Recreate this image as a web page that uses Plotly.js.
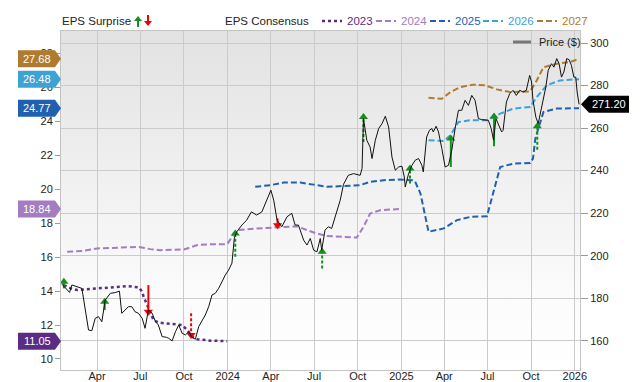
<!DOCTYPE html>
<html><head><meta charset="utf-8">
<script src="https://cdn.plot.ly/plotly-3.0.1.min.js"></script>
<style>html,body{margin:0;padding:0;background:#fff}#chart{width:640px;height:382px}</style>
</head><body><div id="chart"></div>
<script>
// ---------------- DATA ----------------
const priceDates = ['2023-01-17','2023-02-02','2023-02-07','2023-02-18','2023-02-28','2023-03-14','2023-03-21','2023-03-28','2023-04-04','2023-04-11','2023-04-18','2023-04-29','2023-05-09','2023-05-18','2023-05-23','2023-05-30','2023-06-06','2023-06-13','2023-06-20','2023-06-27','2023-07-05','2023-07-11','2023-07-18','2023-07-26','2023-08-02','2023-08-08','2023-08-16','2023-08-25','2023-08-30','2023-09-06','2023-09-13','2023-09-20','2023-09-27','2023-10-04','2023-10-11','2023-10-18','2023-10-25','2023-11-01','2023-11-08','2023-11-15','2023-11-22','2023-11-29','2023-12-06','2023-12-13','2023-12-20','2023-12-27','2024-01-03','2024-01-10','2024-01-15','2024-01-20','2024-01-31','2024-02-10','2024-02-20','2024-03-02','2024-03-13','2024-03-24','2024-04-01','2024-04-07','2024-04-14','2024-04-24','2024-05-05','2024-05-15','2024-05-22','2024-05-29','2024-06-09','2024-06-16','2024-06-23','2024-06-30','2024-07-07','2024-07-14','2024-07-17','2024-07-24','2024-07-31','2024-08-07','2024-08-14','2024-08-25','2024-09-01','2024-09-11','2024-09-22','2024-10-06','2024-10-10','2024-10-13','2024-10-20','2024-10-27','2024-10-31','2024-11-07','2024-11-14','2024-11-21','2024-11-28','2024-12-05','2024-12-12','2024-12-19','2024-12-26','2025-01-02','2025-01-07','2025-01-09','2025-01-16','2025-01-23','2025-01-30','2025-02-06','2025-02-13','2025-02-16','2025-02-23','2025-03-01','2025-03-06','2025-03-09','2025-03-15','2025-03-20','2025-03-27','2025-04-03','2025-04-10','2025-04-17','2025-04-24','2025-05-01','2025-05-08','2025-05-15','2025-05-22','2025-05-29','2025-06-05','2025-06-12','2025-06-19','2025-06-26','2025-07-03','2025-07-09','2025-07-14','2025-07-19','2025-07-24','2025-07-31','2025-08-03','2025-08-10','2025-08-17','2025-08-24','2025-08-31','2025-09-07','2025-09-14','2025-09-21','2025-09-28','2025-10-02','2025-10-05','2025-10-11','2025-10-16','2025-10-21','2025-10-26','2025-11-01','2025-11-06','2025-11-13','2025-11-18','2025-11-24','2025-11-29','2025-12-04','2025-12-09','2025-12-15','2025-12-20','2025-12-25','2025-12-30','2026-01-03','2026-01-06','2026-01-10'];
const priceValues = [186.6,182.7,186.2,185.4,184.6,165.0,164.7,170.5,171.3,168.9,179.1,182.3,182.6,183.3,172.9,174.4,176.0,176.0,173.6,172.9,170.5,165.8,174.4,172.9,168.9,167.4,161.9,161.6,161.1,159.9,164.2,167.4,163.5,162.7,164.2,161.6,160.7,166.6,169.7,172.1,176.0,181.5,182.3,184.6,187.7,190.9,193.2,196.5,208.2,211.2,214.4,216.7,220.6,219.1,220.6,226.1,230.8,226.1,216.7,213.6,218.3,219.9,214.4,214.4,207.3,205.0,208.1,202.6,201.8,208.1,202.6,212.0,213.6,212.8,218.3,226.1,233.6,237.8,238.6,237.8,241.0,264.5,254.3,251.1,245.7,254.3,259.8,262.1,265.6,260.5,246.4,240.2,241.7,242.1,237.0,232.3,238.6,242.5,244.9,245.7,242.5,239.4,255.8,259.0,259.8,258.2,260.9,258.2,250.4,241.7,242.5,249.6,259.8,268.4,268.4,273.1,270.7,275.4,273.1,264.5,264.0,263.7,263.7,259.8,254.3,264.5,262.1,258.2,259.0,272.3,276.2,277.8,275.4,277.8,277.0,277.8,284.8,281.7,273.1,265.2,262.1,267.6,271.5,279.3,287.2,290.3,288.7,292.7,290.3,284.0,286.4,292.7,292.2,289.5,284.0,284.0,277.0,271.2];

const eps2023Dates = ['2023-01-21','2023-02-04','2023-02-18','2023-04-08','2023-05-13','2023-06-03','2023-06-28','2023-07-05','2023-07-08','2023-07-19','2023-07-29','2023-08-09','2023-09-09','2023-09-27','2023-10-08','2023-10-18','2023-10-29','2023-11-26','2023-12-31'];
const eps2023 = [14.35,14.16,14.06,14.16,14.25,14.29,14.22,13.96,13.66,12.88,12.29,12.14,12.06,12.00,11.70,11.31,11.16,11.08,11.05];

const eps2024Dates = ['2023-01-28','2023-03-04','2023-04-01','2023-05-13','2023-06-28','2023-07-22','2023-08-12','2023-10-01','2023-10-29','2023-11-26','2023-12-31','2024-01-14','2024-01-21','2024-02-18','2024-03-24','2024-05-12','2024-05-26','2024-06-16','2024-07-07','2024-07-28','2024-09-15','2024-09-29','2024-10-13','2024-10-27','2024-11-17','2024-12-29'];
const eps2024 = [16.31,16.37,16.51,16.57,16.60,16.47,16.41,16.45,16.71,16.76,16.76,17.35,17.59,17.66,17.72,17.78,17.82,17.59,17.39,17.24,17.19,17.15,17.78,18.57,18.76,18.84];

const eps2025Dates = ['2024-02-28','2024-03-31','2024-04-28','2024-06-02','2024-06-30','2024-07-28','2024-09-01','2024-10-06','2024-10-27','2024-11-24','2024-12-23','2025-01-27','2025-01-30','2025-02-10','2025-02-27','2025-03-31','2025-04-28','2025-05-26','2025-06-30','2025-07-28','2025-08-25','2025-09-29','2025-10-05','2025-10-10','2025-10-27','2025-11-24','2026-01-10'];
const eps2025 = [20.14,20.24,20.39,20.39,20.27,20.14,20.19,20.24,20.43,20.53,20.57,20.53,20.43,19.75,17.49,17.69,18.18,18.37,18.41,21.31,21.51,21.55,21.80,23.00,24.55,24.75,24.77];

const eps2026Dates = ['2025-02-27','2025-03-31','2025-04-14','2025-05-01','2025-05-26','2025-06-30','2025-07-28','2025-08-25','2025-09-29','2025-10-13','2025-11-03','2025-12-01','2026-01-10'];
const eps2026 = [22.88,22.84,23.18,23.96,24.06,24.06,24.45,24.75,24.84,25.43,26.12,26.41,26.48];

const eps2027Dates = ['2025-02-27','2025-03-27','2025-04-14','2025-05-05','2025-06-02','2025-06-26','2025-07-21','2025-08-18','2025-09-29','2025-10-13','2025-10-27','2025-11-24','2025-12-22','2026-01-10'];
const eps2027 = [25.39,25.33,25.72,26.02,26.16,26.12,25.88,25.72,25.76,26.41,27.19,27.39,27.49,27.68];

const surpriseDates = ['2023-01-21','2023-04-17','2023-07-18','2023-10-16','2024-01-17','2024-04-15','2024-07-18','2024-10-13','2025-01-19','2025-04-15','2025-07-15','2025-10-14'];
const surpriseConsensus = [14.16,12.88,14.35,12.69,16.02,18.28,15.33,22.78,20.33,21.31,22.53,22.33];
const surpriseActual = [14.55,13.37,12.78,11.41,17.39,17.88,16.31,24.25,21.22,22.98,24.29,23.71];
const surpriseStyle = ['solid','solid','solid','dash','dash','solid','dash','dash','dash','solid','solid','dash'];

const xTickVals = ['2023-04-01','2023-07-01','2023-10-01','2024-01-01','2024-04-01','2024-07-01','2024-10-01','2025-01-01','2025-04-01','2025-07-01','2025-10-01','2026-01-01'];
const xTickText = ['Apr','Jul','Oct','2024','Apr','Jul','Oct','2025','Apr','Jul','Oct','2026'];
const epsTicks = [10,12,14,16,18,20,22,24,26,28];
const priceTicks = [160,180,200,220,240,260,280,300];
const seriesNames = ['2023','2024','2025','2026','2027'];

// ---------------- STYLE ----------------
const FONT = 'Liberation Sans, Arial, Helvetica, sans-serif';
const colors = {'2023':'#5b2c83','2024':'#a47cc0','2025':'#1f61b0','2026':'#3da2d4','2027':'#b17b2f'};
const GREEN = '#14901e', RED = '#f40000';
const L = 61, R = 580, T = 31, B = 370;
const px = x => (x - L) / (R - L);
const py = y => (B - y) / (B - T);

const series = {
  '2023': [eps2023Dates, eps2023, 'dot'],
  '2024': [eps2024Dates, eps2024, '6px,3px'],
  '2025': [eps2025Dates, eps2025, '6px,3px'],
  '2026': [eps2026Dates, eps2026, '6px,3px'],
  '2027': [eps2027Dates, eps2027, '6px,3px']
};

const traces = [];
traces.push({x: priceDates, y: priceValues, yaxis: 'y2', type: 'scatter', mode: 'lines',
  line: {color: '#111', width: 1}, hoverinfo: 'skip', showlegend: false});
seriesNames.forEach(n => {
  const s = series[n];
  traces.push({x: s[0], y: s[1], type: 'scatter', mode: 'lines',
    line: {color: colors[n], width: n === '2023' ? 2.5 : 2, dash: s[2]}, hoverinfo: 'skip', showlegend: false});
});

// surprise arrows
function stemTrace(up, style) {
  const xs = [], ys = [];
  surpriseDates.forEach((d, i) => {
    const isUp = surpriseActual[i] > surpriseConsensus[i];
    if (isUp === up && surpriseStyle[i] === style) {
      xs.push(d, d, null); ys.push(surpriseConsensus[i], surpriseActual[i], null);
    }
  });
  return {x: xs, y: ys, type: 'scatter', mode: 'lines', hoverinfo: 'skip', showlegend: false,
    line: {color: up ? GREEN : RED, width: 2, dash: style === 'dash' ? '3px,2px' : 'solid'}};
}
traces.push(stemTrace(true, 'solid'), stemTrace(true, 'dash'), stemTrace(false, 'solid'), stemTrace(false, 'dash'));
[true, false].forEach(up => {
  const xs = [], ys = [];
  surpriseDates.forEach((d, i) => {
    if ((surpriseActual[i] > surpriseConsensus[i]) === up) { xs.push(d); ys.push(surpriseActual[i]); }
  });
  traces.push({x: xs, y: ys, type: 'scatter', mode: 'markers', hoverinfo: 'skip', showlegend: false,
    marker: {symbol: up ? 'triangle-up' : 'triangle-down', size: 8, color: up ? GREEN : RED, line: {width: 0}}});
});

// background gradient
const gradSvg = '<svg xmlns="http://www.w3.org/2000/svg" width="100" height="100" preserveAspectRatio="none"><defs><linearGradient id="g" x1="0" y1="0" x2="0" y2="1"><stop offset="0" stop-color="#e2e2e2"/><stop offset="0.8" stop-color="#fcfcfc"/><stop offset="1" stop-color="#ffffff"/></linearGradient></defs><rect width="100" height="100" fill="url(#g)"/></svg>';
const gradSrc = 'data:image/svg+xml;charset=utf-8,' + encodeURIComponent(gradSvg);

const shapes = [], annotations = [];

// left value tags
seriesNames.forEach(n => {
  const vals = series[n][1];
  const v = vals[vals.length - 1];
  shapes.push({type: 'path', xref: 'paper', yref: 'y', xsizemode: 'pixel', ysizemode: 'pixel',
    xanchor: 0, yanchor: v, path: 'M -43,-8.5 L -6,-8.5 L 0,0 L -6,8.5 L -43,8.5 Z',
    fillcolor: colors[n], line: {width: 0}, layer: 'above'});
  annotations.push({xref: 'paper', yref: 'y', x: 0, y: v, xshift: -24, xanchor: 'center', yanchor: 'middle',
    text: v.toFixed(2), showarrow: false, font: {family: FONT, size: 11, color: '#fff'}});
});
// right price tag
const lastPrice = priceValues[priceValues.length - 1];
shapes.push({type: 'path', xref: 'paper', yref: 'y2', xsizemode: 'pixel', ysizemode: 'pixel',
  xanchor: 1, yanchor: lastPrice, path: 'M 1,0 L 9,-8.5 L 49,-8.5 L 49,8.5 L 9,8.5 Z',
  fillcolor: '#000', line: {width: 0}, layer: 'above'});
annotations.push({xref: 'paper', yref: 'y2', x: 1, y: lastPrice, xshift: 29, xanchor: 'center', yanchor: 'middle',
  text: lastPrice.toFixed(2), showarrow: false, font: {family: FONT, size: 11, color: '#fff'}});

// price legend inside plot
shapes.push({type: 'line', xref: 'paper', yref: 'paper', x0: px(513), x1: px(531), y0: py(42), y1: py(42),
  line: {color: '#777', width: 3}});
annotations.push({xref: 'paper', yref: 'paper', x: px(537), y: py(42), xanchor: 'left', yanchor: 'middle',
  text: 'Price ($)', showarrow: false, font: {family: FONT, size: 11, color: '#222'}});

// top legend
const LY = 21;
annotations.push({xref: 'paper', yref: 'paper', x: px(60), y: py(LY), xanchor: 'left', yanchor: 'middle',
  text: 'EPS Surprise', showarrow: false, font: {family: FONT, size: 11.5, color: '#222'}});
shapes.push({type: 'path', xref: 'paper', yref: 'paper', xsizemode: 'pixel', ysizemode: 'pixel',
  xanchor: px(138), yanchor: py(LY), path: 'M -1,-6 L 1,-6 L 1,0 L 4,0 L 0,5 L -4,0 L -1,0 Z',
  fillcolor: GREEN, line: {width: 0}});
shapes.push({type: 'path', xref: 'paper', yref: 'paper', xsizemode: 'pixel', ysizemode: 'pixel',
  xanchor: px(148), yanchor: py(LY), path: 'M -1,6 L 1,6 L 1,0 L 4,0 L 0,-5 L -4,0 L -1,0 Z',
  fillcolor: RED, line: {width: 0}});
annotations.push({xref: 'paper', yref: 'paper', x: px(223), y: py(LY), xanchor: 'left', yanchor: 'middle',
  text: 'EPS Consensus', showarrow: false, font: {family: FONT, size: 11.5, color: '#222'}});
const legX = {'2023': 322, '2024': 376, '2025': 430, '2026': 483, '2027': 537};
seriesNames.forEach(n => {
  const x0 = legX[n];
  shapes.push({type: 'line', xref: 'paper', yref: 'paper', x0: px(x0), x1: px(x0 + 20), y0: py(LY), y1: py(LY),
    line: {color: colors[n], width: n === '2023' ? 2.5 : 2, dash: series[n][2]}});
  annotations.push({xref: 'paper', yref: 'paper', x: px(x0 + 23), y: py(LY), xanchor: 'left', yanchor: 'middle',
    text: n, showarrow: false, font: {family: FONT, size: 11.5, color: colors[n]}});
});

const layout = {
  width: 640, height: 382,
  margin: {l: L, r: 640 - R, t: T, b: 382 - B, pad: 0},
  paper_bgcolor: '#fff', plot_bgcolor: 'rgba(0,0,0,0)',
  font: {family: FONT, size: 11, color: '#222'},
  showlegend: false,
  images: [{source: gradSrc, xref: 'paper', yref: 'paper', x: 0, y: 1, sizex: 1, sizey: 1,
    sizing: 'stretch', xanchor: 'left', yanchor: 'top', layer: 'below'}],
  xaxis: {type: 'date', range: ['2023-01-15', '2026-01-12'], tickmode: 'array', tickvals: xTickVals, ticktext: xTickText,
    showgrid: true, gridcolor: '#cbcbcb', gridwidth: 1, showline: true, linecolor: '#c4c4c4', linewidth: 1, mirror: true,
    ticks: '', ticklabelstandoff: -4, tickfont: {family: FONT, size: 11, color: '#222'}, zeroline: false, fixedrange: true},
  yaxis: {range: [9.35, 29.32], tickmode: 'array', tickvals: epsTicks, showgrid: false, zeroline: false,
    showline: true, linecolor: '#c4c4c4', mirror: true, ticks: 'outside', ticklen: 5, tickcolor: '#999',
    tickfont: {family: FONT, size: 11, color: '#222'}, fixedrange: true},
  yaxis2: {range: [146.2, 305.7], overlaying: 'y', side: 'right', tickmode: 'array', tickvals: priceTicks,
    showgrid: true, gridcolor: '#cbcbcb', zeroline: false, showline: false, ticks: 'outside', ticklen: 7,
    tickcolor: '#999', tickfont: {family: FONT, size: 11, color: '#222'}, fixedrange: true},
  shapes: shapes,
  annotations: annotations
};

Plotly.newPlot('chart', traces, layout, {staticPlot: true, displayModeBar: false});
</script></body></html>
